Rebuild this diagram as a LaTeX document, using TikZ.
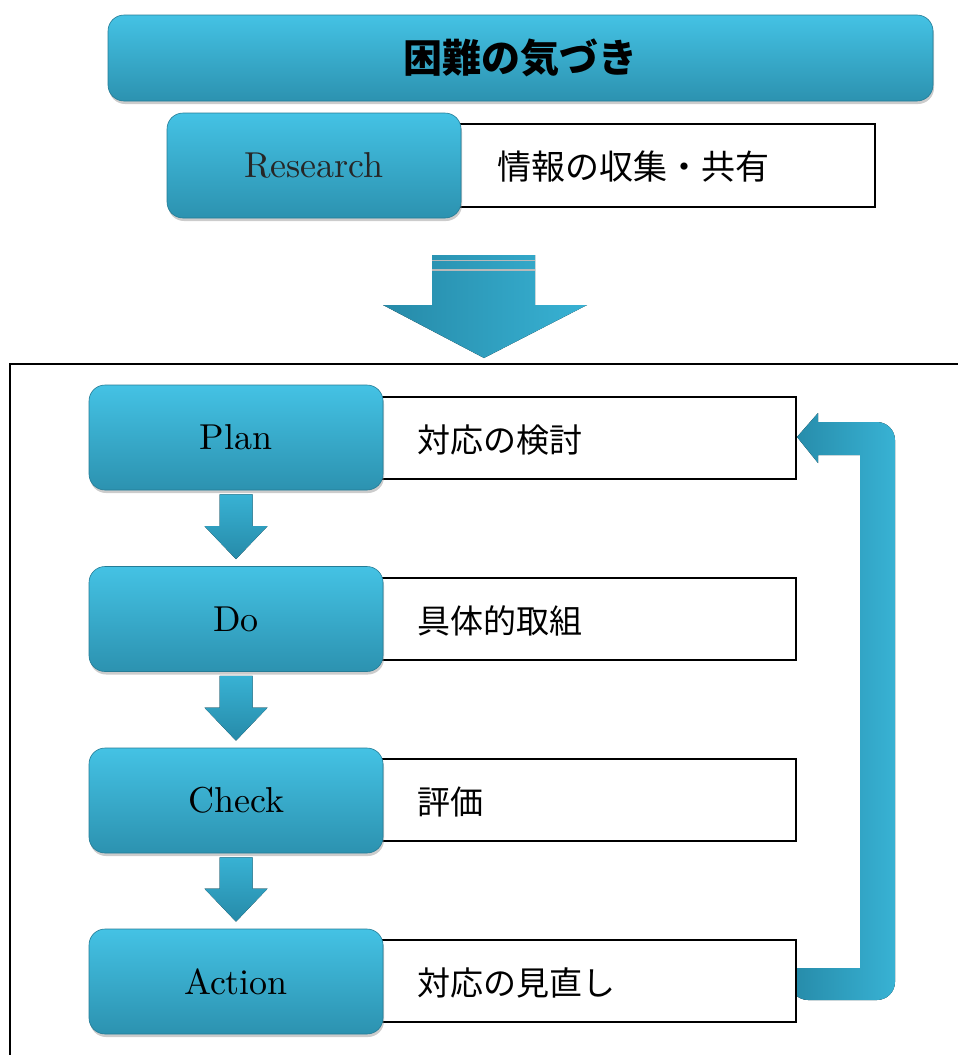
\documentclass[tikz,border=0pt]{standalone}
\usepackage{fontspec}
\newfontfamily\jp{Noto Sans CJK JP}
\newfontfamily\lmten{lmroman10-regular.otf}
\usetikzlibrary{shadows,calc}
\definecolor{blueL}{RGB}{68,194,228}
\definecolor{blueD}{RGB}{44,146,176}
\definecolor{arrL}{RGB}{56,178,212}
\definecolor{arrD}{RGB}{38,138,168}
\tikzset{
 bluebox/.style={rounded corners=16pt, top color=blueL, bottom color=blueD, draw=blueD!85!black, line width=0.6pt,
   drop shadow={opacity=0.4,shadow xshift=1pt,shadow yshift=-3pt},
   minimum width=294pt, minimum height=105pt, inner sep=0pt, font=\lmten\fontsize{36}{40}\selectfont},
 whitebox/.style={draw=black, line width=1.8pt, fill=white, minimum width=418pt, minimum height=82pt, inner sep=0pt},
 jptext/.style={anchor=west, inner sep=0pt, font=\jp\fontsize{33}{38}\selectfont},
 smallarrow/.style={top color=arrL, bottom color=arrD, draw=none},
 bigarrow/.style={left color=arrD, right color=arrL, draw=none},
}
\begin{document}
\begin{tikzpicture}[x=1pt,y=-1pt]
\useasboundingbox (0,0) rectangle (958,1055);
% title bar
\node[bluebox, minimum width=825pt, minimum height=86pt, font=\jp\bfseries\fontsize{39}{44}\selectfont] (title) at (520.5,58) {困難の気づき};
% research
\node[whitebox, minimum width=420pt, minimum height=83pt] (resW) at (665,165.5) {};
\node[bluebox, text=black!85] (res) at (314,165.5) {Research};
\node[jptext, font=\jp\fontsize{34}{38}\selectfont] (resT) at (497,167) {情報の収集・共有};
% frame
\coordinate (frameTL) at (10,364);
\draw[line width=1.8pt] (10,1055) -- (frameTL) -- (958,364);
\coordinate (frameTop) at (484,364);
% big arrow
\fill[bigarrow] ($(frameTop)+(-52,-109)$) -- ($(frameTop)+(51,-109)$) -- ($(frameTop)+(51,-59)$) -- ($(frameTop)+(103,-59)$)
  -- ($(frameTop)+(0,-6)$) -- ($(frameTop)+(-101,-59)$) -- ($(frameTop)+(-52,-59)$) -- cycle;
\draw[gray!55, line width=1.2pt] ($(frameTop)+(-52,-103.5)$) -- ($(frameTop)+(51,-103.5)$);
\draw[gray!55, line width=1.2pt] ($(frameTop)+(-52,-94)$) -- ($(frameTop)+(51,-94)$);
% feedback arrow
\fill[bigarrow] (797,437) -- (818,413) -- (818,422) -- (877,422) [rounded corners=18pt] -- (895,422) -- (895,1000) -- (790,1000) [sharp corners]
  -- (790,968) -- (860,968) -- (860,455) -- (818,455) -- (818,463) -- cycle;
% PDCA
\node[whitebox] (planW) at (587,438) {};
\node[bluebox] (plan) at (236,437.5) {Plan};
\node[jptext] (planT) at (417,440) {対応の検討};
\node[whitebox] (doW) at (587,619) {};
\node[bluebox] (do) at (236,619) {Do};
\node[jptext] (doT) at (417,621) {具体的取組};
\node[whitebox] (checkW) at (587,800) {};
\node[bluebox] (check) at (236,800.5) {Check};
\node[jptext] (checkT) at (417,802) {評価};
\node[whitebox] (actW) at (587,981) {};
\node[bluebox] (act) at (236,981.5) {Action};
\node[jptext] (actT) at (417,983) {対応の見直し};
% small arrows
\foreach \a/\b in {plan/do, do/check, check/act}{
 \fill[smallarrow] ($(\a.south)+(-16.5,4)$) -- ($(\a.south)+(16.5,4)$) -- ($(\b.north)+(16.5,-40)$) -- ($(\b.north)+(31.5,-40)$)
   -- ($(\b.north)+(0,-7)$) -- ($(\b.north)+(-31.5,-40)$) -- ($(\b.north)+(-16.5,-40)$) -- cycle;
}
\end{tikzpicture}
\end{document}
